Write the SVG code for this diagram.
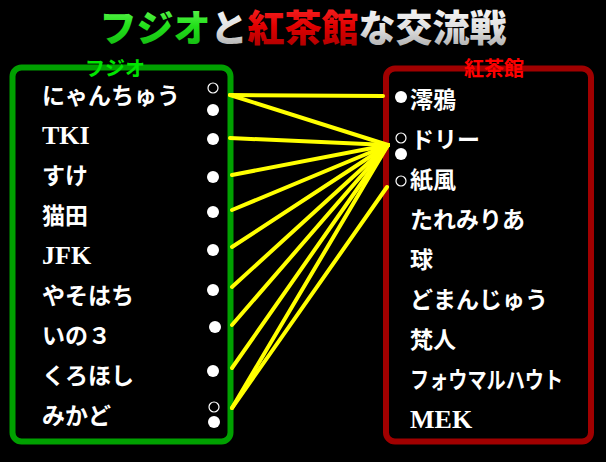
<svg xmlns="http://www.w3.org/2000/svg" width="606" height="462" viewBox="0 0 606 462">
<defs>
<linearGradient id="gG" x1="0" y1="0" x2="0" y2="1"><stop offset="0" stop-color="#7dff6a"/><stop offset="0.5" stop-color="#22e01a"/><stop offset="1" stop-color="#10b010"/></linearGradient>
<linearGradient id="gR" x1="0" y1="0" x2="0" y2="1"><stop offset="0" stop-color="#ff3030"/><stop offset="0.5" stop-color="#e00000"/><stop offset="1" stop-color="#a00000"/></linearGradient>
<linearGradient id="gW" x1="0" y1="0" x2="0" y2="1"><stop offset="0" stop-color="#ffffff"/><stop offset="0.55" stop-color="#e0e0e0"/><stop offset="1" stop-color="#a0a0a0"/></linearGradient>
<style>
.title{font-family:"Noto Sans CJK JP",sans-serif;font-weight:900;font-size:37px}
.name{font-family:"Liberation Serif","Noto Sans CJK JP",serif;font-weight:bold;font-size:23px;fill:#ffffff}
.lat{font-size:26px}
.hdr{font-family:"Liberation Serif","Noto Sans CJK JP",serif;font-weight:bold;font-size:20px}
.dot{fill:#ffffff}
.ring{fill:none;stroke:#ffffff;stroke-width:1.2}
.link{stroke:#ffff00;stroke-width:4;stroke-linecap:round;fill:none}
</style>
</defs>
<rect width="606" height="462" fill="#000000"/>
<g id="title">
<text class="title" x="303" y="42" text-anchor="middle"><tspan fill="url(#gG)">フジオ</tspan><tspan fill="url(#gW)">と</tspan><tspan fill="url(#gR)">紅茶館</tspan><tspan fill="url(#gW)">な交流戦</tspan></text>
</g>
<g id="fujio-team">
<rect x="12.5" y="67.5" width="218" height="374" rx="9" fill="none" stroke="#00a000" stroke-width="6"/>
<text class="hdr" x="115" y="76" text-anchor="middle" fill="#00e600">フジオ</text>
</g>
<g id="koucha-team">
<rect x="386" y="68.5" width="205" height="373" rx="9" fill="none" stroke="#a00000" stroke-width="6"/>
<text class="hdr" x="494" y="76" text-anchor="middle" fill="#ff0000">紅茶館</text>
</g>
<g id="connectors">
<line class="link" x1="230" y1="95" x2="383" y2="96"/>
<line class="link" x1="230" y1="95" x2="388" y2="145"/>
<line class="link" x1="230" y1="138" x2="388" y2="145"/>
<line class="link" x1="232" y1="175" x2="388" y2="145"/>
<line class="link" x1="232" y1="210" x2="388" y2="145"/>
<line class="link" x1="232" y1="247" x2="388" y2="145"/>
<line class="link" x1="232" y1="287" x2="388" y2="145"/>
<line class="link" x1="232" y1="325" x2="388" y2="145"/>
<line class="link" x1="232" y1="368" x2="388" y2="145"/>
<line class="link" x1="232" y1="408" x2="388" y2="145"/>
<line class="link" x1="232" y1="408" x2="387" y2="187"/>
</g>
<g id="f-nyanchu"><text class="name" x="42" y="104">にゃんちゅう</text><circle class="ring" cx="213" cy="88" r="5"/><circle class="dot" cx="213" cy="110" r="6"/></g>
<g id="f-tki"><text class="name lat" x="42" y="144">TKI</text><circle class="dot" cx="213" cy="139" r="6"/></g>
<g id="f-suke"><text class="name" x="42" y="184">すけ</text><circle class="dot" cx="213" cy="177" r="6"/></g>
<g id="f-nekota"><text class="name" x="42" y="224">猫田</text><circle class="dot" cx="213" cy="212" r="6"/></g>
<g id="f-jfk"><text class="name lat" x="42" y="264">JFK</text><circle class="dot" cx="213" cy="250" r="6"/></g>
<g id="f-yasohachi"><text class="name" x="42" y="304">やそはち</text><circle class="dot" cx="213" cy="290" r="6"/></g>
<g id="f-ino3"><text class="name" x="42" y="344">いの３</text><circle class="dot" cx="215" cy="327" r="6"/></g>
<g id="f-kurohoshi"><text class="name" x="42" y="384">くろほし</text><circle class="dot" cx="213" cy="371" r="6"/></g>
<g id="f-mikado"><text class="name" x="42" y="424">みかど</text><circle class="ring" cx="214" cy="407" r="5"/><circle class="dot" cx="214" cy="422" r="6"/></g>
<g id="k-reia"><circle class="dot" cx="401" cy="97" r="6"/><text class="name" x="410" y="108">澪鴉</text></g>
<g id="k-dory"><circle class="ring" cx="401" cy="138" r="5"/><circle class="dot" cx="401" cy="154" r="6"/><text class="name" x="411" y="148">ドリー</text></g>
<g id="k-shifuu"><circle class="ring" cx="401" cy="181" r="5"/><text class="name" x="410" y="188">紙風</text></g>
<g id="k-taremiria"><text class="name" x="410" y="228">たれみりあ</text></g>
<g id="k-kyu"><text class="name" x="410" y="268">球</text></g>
<g id="k-domanju"><text class="name" x="410" y="308">どまんじゅう</text></g>
<g id="k-bonjin"><text class="name" x="410" y="348">梵人</text></g>
<g id="k-fomalhaut"><text class="name" x="410" y="388" textLength="153" lengthAdjust="spacingAndGlyphs">フォウマルハウト</text></g>
<g id="k-mek"><text class="name lat" x="410" y="428">MEK</text></g>
</svg>
